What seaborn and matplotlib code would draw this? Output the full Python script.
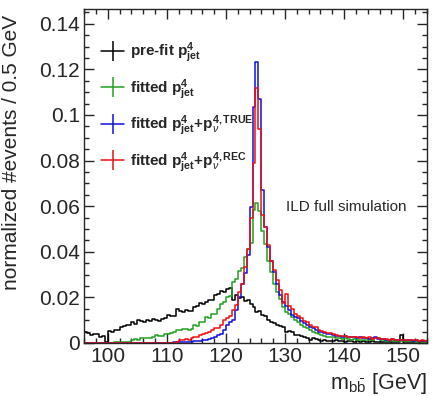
import numpy as np
import pandas as pd
import matplotlib
matplotlib.use("Agg")
import matplotlib.pyplot as plt
from matplotlib.lines import Line2D
from matplotlib.ticker import MultipleLocator, FuncFormatter
import seaborn as sns

# binning: 0.5 GeV bins starting at 96 GeV
bin_lo = 96.0
bin_hi = 154.0
bin_width = 0.5

# normalized #events per bin (bins 96.0, 96.5, ... 153.5)
prefit = [
    0.0049, 0.0045, 0.0035, 0.0040, 0.0038, 0.0025, 0.0030, 0.0005, 0.0052, 0.0050,
    0.0055, 0.0055, 0.0068, 0.0075, 0.0078, 0.0080, 0.0093, 0.0085, 0.0100, 0.0098,
    0.0090, 0.0100, 0.0095, 0.0107, 0.0100, 0.0098, 0.0107, 0.0110, 0.0122, 0.0116,
    0.0118, 0.0150, 0.0140, 0.0136, 0.0143, 0.0140, 0.0138, 0.0158, 0.0160, 0.0175,
    0.0172, 0.0178, 0.0190, 0.0188, 0.0209, 0.0215, 0.0228, 0.0225, 0.0238, 0.0240,
    0.0190, 0.0209, 0.0195, 0.0200, 0.0184, 0.0187, 0.0170, 0.0158, 0.0136, 0.0140,
    0.0122, 0.0118, 0.0100, 0.0092, 0.0086, 0.0078, 0.0075, 0.0070, 0.0050, 0.0052,
    0.0048, 0.0036, 0.0035, 0.0030, 0.0025, 0.0020, 0.0015, 0.0020, 0.0018, 0.0012,
    0.0010, 0.0012, 0.0010, 0.0008, 0.0010, 0.0012, 0.0008, 0.0010, 0.0006, 0.0008,
    0.0010, 0.0006, 0.0008, 0.0005, 0.0007, 0.0006, 0.0005, 0.0008, 0.0005, 0.0006,
    0.0004, 0.0006, 0.0005, 0.0004, 0.0006, 0.0004, 0.0005, 0.0035, 0.0004, 0.0005,
    0.0004, 0.0003, 0.0005, 0.0003, 0.0004, 0.0003,
]
fitted = [
    0.0, 0.0, 0.0, 0.0, 0.0, 0.0, 0.0, 0.0, 0.0, 0.0,
    0.0003, 0.0005, 0.0005, 0.0005, 0.0005, 0.0005, 0.0015, 0.0016, 0.0015, 0.0020,
    0.0020, 0.0022, 0.0022, 0.0025, 0.0035, 0.0030, 0.0032, 0.0040, 0.0040, 0.0042,
    0.0048, 0.0057, 0.0055, 0.0060, 0.0060, 0.0058, 0.0062, 0.0078, 0.0075, 0.0093,
    0.0090, 0.0114, 0.0108, 0.0129, 0.0125, 0.0150, 0.0172, 0.0180, 0.0200, 0.0205,
    0.0267, 0.0280, 0.0315, 0.0330, 0.0375, 0.0410, 0.0440, 0.0585, 0.0614, 0.0580,
    0.0490, 0.0435, 0.0360, 0.0310, 0.0260, 0.0223, 0.0194, 0.0158, 0.0135, 0.0125,
    0.0114, 0.0100, 0.0093, 0.0080, 0.0071, 0.0065, 0.0055, 0.0050, 0.0045, 0.0040,
    0.0035, 0.0032, 0.0028, 0.0025, 0.0025, 0.0022, 0.0020, 0.0018, 0.0020, 0.0016,
    0.0015, 0.0016, 0.0014, 0.0012, 0.0014, 0.0012, 0.0015, 0.0013, 0.0020, 0.0022,
    0.0014, 0.0012, 0.0010, 0.0011, 0.0009, 0.0010, 0.0008, 0.0009, 0.0008, 0.0007,
    0.0008, 0.0007, 0.0006, 0.0007, 0.0006, 0.0005,
]
fitted_true = [
    0.0, 0.0, 0.0, 0.0, 0.0, 0.0, 0.0, 0.0, 0.0, 0.0,
    0.0, 0.0, 0.0, 0.0, 0.0, 0.0, 0.0, 0.0, 0.0, 0.0,
    0.0, 0.0, 0.0, 0.0, 0.0, 0.0, 0.0, 0.0, 0.0001, 0.0001,
    0.0002, 0.0002, 0.0003, 0.0003, 0.0004, 0.0004, 0.0006, 0.0008, 0.0009, 0.0010,
    0.0012, 0.0015, 0.0017, 0.0020, 0.0028, 0.0033, 0.0039, 0.0057, 0.0079, 0.0090,
    0.0100, 0.0145, 0.0200, 0.0260, 0.0306, 0.0386, 0.0598, 0.1036, 0.1230, 0.1070,
    0.0670, 0.0510, 0.0420, 0.0360, 0.0310, 0.0260, 0.0210, 0.0180, 0.0160, 0.0145,
    0.0123, 0.0115, 0.0108, 0.0095, 0.0086, 0.0078, 0.0070, 0.0065, 0.0055, 0.0050,
    0.0048, 0.0042, 0.0040, 0.0038, 0.0035, 0.0030, 0.0032, 0.0028, 0.0030, 0.0025,
    0.0028, 0.0024, 0.0022, 0.0025, 0.0020, 0.0022, 0.0018, 0.0020, 0.0025, 0.0018,
    0.0016, 0.0018, 0.0015, 0.0014, 0.0016, 0.0012, 0.0015, 0.0012, 0.0014, 0.0011,
    0.0012, 0.0010, 0.0012, 0.0009, 0.0010, 0.0008,
]
fitted_rec = [
    0.0, 0.0, 0.0, 0.0, 0.0, 0.0, 0.0, 0.0, 0.0, 0.0,
    0.0, 0.0, 0.0, 0.0, 0.0, 0.0, 0.0, 0.0, 0.0, 0.0,
    0.0, 0.0, 0.0, 0.0, 0.0, 0.0, 0.0, 0.0, 0.0, 0.0,
    0.0001, 0.0003, 0.0013, 0.0012, 0.0017, 0.0015, 0.0020, 0.0026, 0.0025, 0.0035,
    0.0040, 0.0045, 0.0049, 0.0057, 0.0064, 0.0064, 0.0079, 0.0100, 0.0108, 0.0120,
    0.0145, 0.0167, 0.0225, 0.0260, 0.0335, 0.0410, 0.0550, 0.0790, 0.1117, 0.0940,
    0.0560, 0.0510, 0.0430, 0.0360, 0.0320, 0.0276, 0.0230, 0.0175, 0.0215, 0.0160,
    0.0150, 0.0128, 0.0118, 0.0110, 0.0098, 0.0090, 0.0080, 0.0072, 0.0068, 0.0058,
    0.0052, 0.0050, 0.0045, 0.0042, 0.0040, 0.0036, 0.0032, 0.0030, 0.0032, 0.0026,
    0.0028, 0.0025, 0.0028, 0.0022, 0.0024, 0.0020, 0.0024, 0.0018, 0.0020, 0.0022,
    0.0019, 0.0016, 0.0018, 0.0014, 0.0016, 0.0013, 0.0015, 0.0012, 0.0014, 0.0011,
    0.0013, 0.0011, 0.0012, 0.0010, 0.0011, 0.0009,
]

labels = [
    r"pre-fit $\mathbf{p}^{\mathbf{4}}_{\mathbf{jet}}$",
    r"fitted $\mathbf{p}^{\mathbf{4}}_{\mathbf{jet}}$",
    r"fitted $\mathbf{p}^{\mathbf{4}}_{\mathbf{jet}}\mathbf{+p}^{\mathbf{4,TRUE}}_{\nu}$",
    r"fitted $\mathbf{p}^{\mathbf{4}}_{\mathbf{jet}}\mathbf{+p}^{\mathbf{4,REC}}_{\nu}$",
]
colors = ["#000000", "#20a020", "#1010e0", "#f01010"]

centers = bin_lo + bin_width * (np.arange(len(prefit)) + 0.5)

sns.set_style("ticks")
plt.rcParams["font.family"] = ["Liberation Sans", "DejaVu Sans"]
plt.rcParams["mathtext.fontset"] = "custom"
plt.rcParams["mathtext.rm"] = "Liberation Sans"
plt.rcParams["mathtext.it"] = "Liberation Sans:italic"
plt.rcParams["mathtext.bf"] = "Liberation Sans:bold"

fig = plt.figure(figsize=(4.36, 3.96), dpi=100)
ax = fig.add_axes([0.193, 0.134, 0.786, 0.843])

for vals, col in zip([prefit, fitted, fitted_true, fitted_rec], colors):
    df = pd.DataFrame({"mass": centers, "w": vals})
    sns.histplot(data=df, x="mass", weights="w", binwidth=bin_width,
                 binrange=(bin_lo, bin_hi), element="step",
                 fill=False, color=col, linewidth=1.1, ax=ax)

ax.set_xlim(bin_lo, bin_hi)
ax.set_ylim(0, 0.1464)
ax.xaxis.set_major_locator(MultipleLocator(10))
ax.xaxis.set_minor_locator(MultipleLocator(2))
ax.yaxis.set_major_locator(MultipleLocator(0.02))
ax.yaxis.set_minor_locator(MultipleLocator(0.005))
ax.yaxis.set_major_formatter(FuncFormatter(lambda v, p: "%g" % round(v, 3)))
ax.tick_params(which="both", direction="in", top=True, right=True, width=1)
ax.tick_params(which="major", length=7.2, labelsize=15, pad=3)
ax.tick_params(which="minor", length=3.6)
for s in ax.spines.values():
    s.set_linewidth(1)

ax.set_ylabel("normalized #events / 0.5 GeV", fontsize=15)
ax.yaxis.set_label_coords(-0.184, 0.57)
ax.set_xlabel(r"m$_{\mathrm{b\bar{b}}}$ [GeV]", fontsize=15.5)
ax.xaxis.set_label_coords(1.0, -0.085)
ax.xaxis.label.set_horizontalalignment("right")

ax.text(0.942, 0.406, "ILD full simulation", transform=ax.transAxes,
        ha="right", va="center", fontsize=11)

handles = [Line2D([], [], color=c, lw=1.1, marker="|", markersize=14.5,
                  markeredgewidth=1.1) for c in colors]
ax.legend(handles, labels, loc="upper left", bbox_to_anchor=(0.05, 0.905),
          frameon=False, prop={"weight": "bold", "size": 11},
          borderpad=0, borderaxespad=0, handlelength=1.5, handletextpad=0.4,
          labelspacing=0.78)

fig.savefig("out.png", dpi=100)
